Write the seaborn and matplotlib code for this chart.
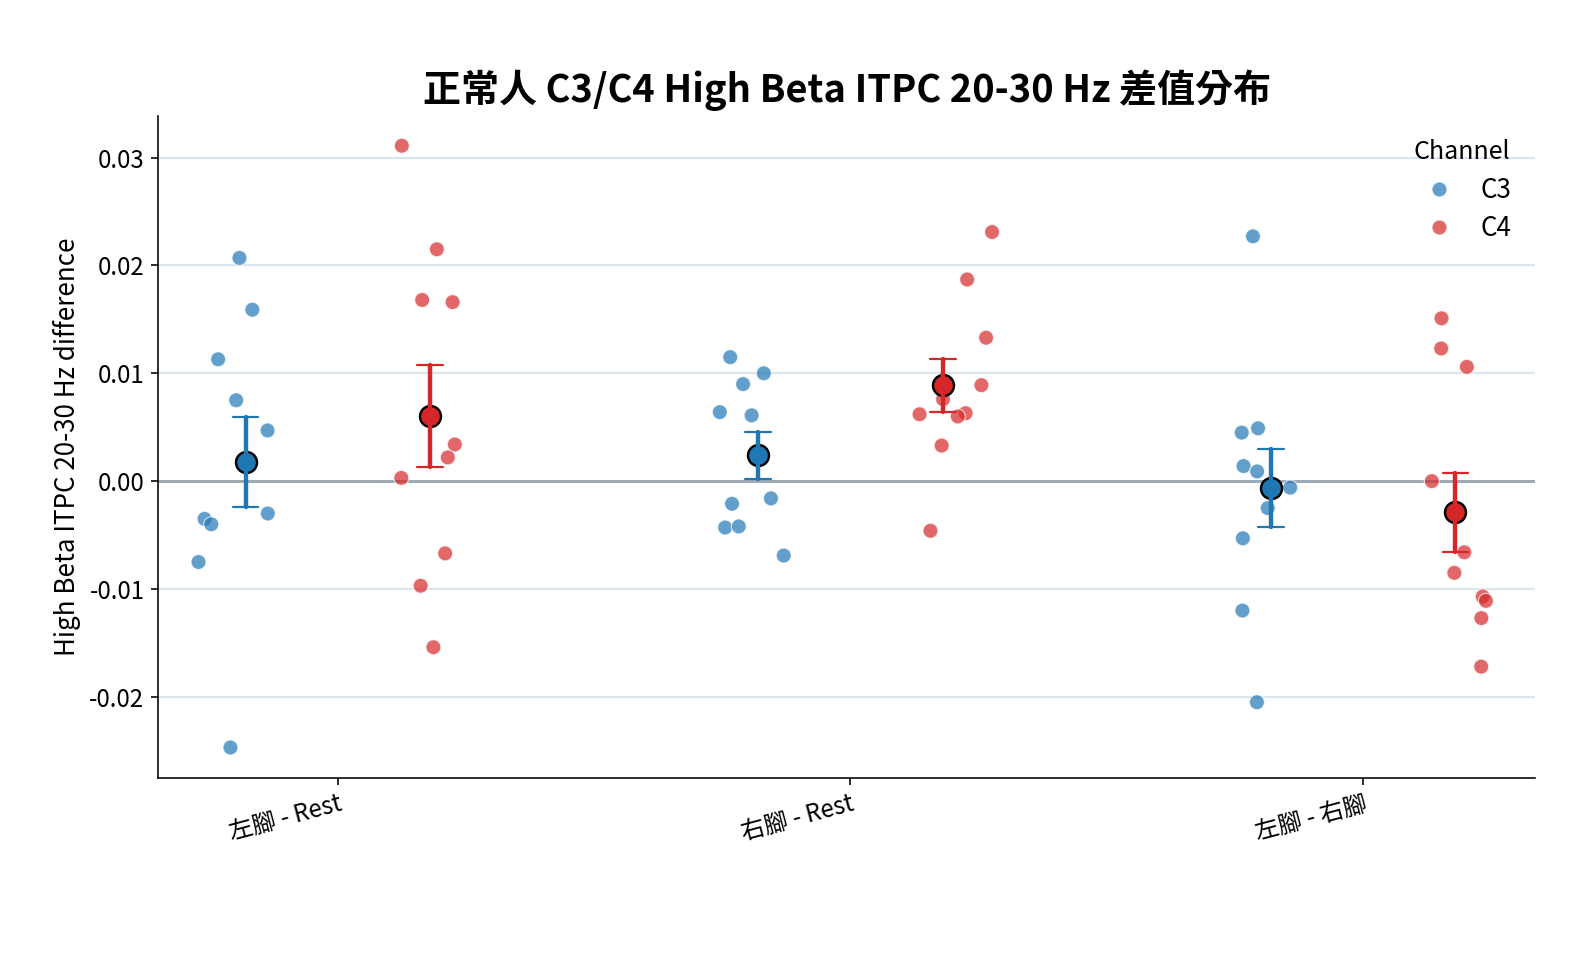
# C3/C4 high beta ITPC difference plot (strip + mean +/- SE)

import numpy as np
import pandas as pd
import seaborn as sns
from matplotlib import pyplot as plt

# --- DATA ---
conditions = ["左腳 - Rest", "右腳 - Rest", "左腳 - 右腳"]
channels = ["C3", "C4"]

# one value per subject
c3_left_rest = [0.0207, 0.0159, 0.0113, 0.0075, 0.0047, -0.0030, -0.0035, -0.0040, -0.0075, -0.0247]
c4_left_rest = [0.0311, 0.0215, 0.0166, 0.0168, 0.0034, 0.0022, 0.0003, -0.0067, -0.0097, -0.0154]
c3_right_rest = [0.0115, 0.0100, 0.0090, 0.0064, 0.0061, -0.0016, -0.0021, -0.0043, -0.0042, -0.0069]
c4_right_rest = [0.0231, 0.0187, 0.0133, 0.0089, 0.0076, 0.0062, 0.0063, 0.0060, 0.0033, -0.0046]
c3_left_right = [0.0227, 0.0049, 0.0045, 0.0014, 0.0009, -0.0006, -0.0025, -0.0053, -0.0120, -0.0205]
c4_left_right = [0.0151, 0.0123, 0.0106, 0.0000, -0.0066, -0.0085, -0.0107, -0.0111, -0.0127, -0.0172]

palette = {"C3": "#1f77b4", "C4": "#d62728"}

# --- build long table ---
groups = [
    (conditions[0], "C3", c3_left_rest),
    (conditions[0], "C4", c4_left_rest),
    (conditions[1], "C3", c3_right_rest),
    (conditions[1], "C4", c4_right_rest),
    (conditions[2], "C3", c3_left_right),
    (conditions[2], "C4", c4_left_right),
]
rows = []
for cond, ch, vals in groups:
    for v in vals:
        rows.append({"condition": cond, "Channel": ch, "diff": v})
df = pd.DataFrame(rows)

# --- PLOT ---
sns.set_style("ticks")
plt.rcParams['font.family'] = ['Noto Sans CJK TC', 'DejaVu Sans']
plt.rcParams['axes.unicode_minus'] = False
for key in ["text.color", "axes.labelcolor", "xtick.color", "ytick.color", "axes.edgecolor"]:
    plt.rcParams[key] = "black"

np.random.seed(3)
fig, ax = plt.subplots(figsize=(11, 6.75), dpi=144)

ax.yaxis.grid(True, color="#dce5ee", linewidth=1.1, zorder=0)
ax.set_axisbelow(True)
ax.axhline(0, color="#9eaab6", linewidth=1.5, zorder=1)

sns.stripplot(data=df, x="condition", y="diff", hue="Channel", order=conditions,
              hue_order=channels, palette=palette, dodge=True, jitter=0.16,
              size=7.5, alpha=0.7, edgecolor="white", linewidth=0.6, ax=ax, zorder=2)

# thin caps first, then thick bars + mean markers on top
sns.pointplot(data=df, x="condition", y="diff", hue="Channel", order=conditions,
              hue_order=channels, palette=palette, dodge=0.36, errorbar="se",
              capsize=0.05, linestyle="none", markers="", err_kws={"linewidth": 1.1},
              legend=False, ax=ax)
sns.pointplot(data=df, x="condition", y="diff", hue="Channel", order=conditions,
              hue_order=channels, palette=palette, dodge=0.36, errorbar="se",
              capsize=0, linestyle="none", markers="o", markersize=10.5,
              markeredgecolor="black", markeredgewidth=1.2,
              err_kws={"linewidth": 2.2}, legend=False, ax=ax)

ax.set_xlim(-0.35, 2.335)
ax.set_yticks([-0.02, -0.01, 0.0, 0.01, 0.02, 0.03])
ax.set_yticklabels(["%.2f" % t for t in [-0.02, -0.01, 0.0, 0.01, 0.02, 0.03]])
ax.tick_params(axis="both", labelsize=12)
ax.tick_params(axis="x", pad=3)
plt.setp(ax.get_xticklabels(), rotation=15, ha="right", rotation_mode="anchor")

ax.set_xlabel("")
ax.set_ylabel("High Beta ITPC 20-30 Hz difference", fontsize=13)
ax.set_title("正常人 C3/C4 High Beta ITPC 20-30 Hz 差值分布", fontsize=19,
             fontweight="bold", pad=7)

sns.despine(ax=ax)
leg = ax.legend(title="Channel", loc="upper right", frameon=False, fontsize=13,
                title_fontsize=12.5, labelspacing=0.45, handletextpad=0.6,
                bbox_to_anchor=(1.0, 1.0))

plt.subplots_adjust(left=0.1, right=0.969, top=0.881, bottom=0.2)
plt.savefig("out.png", dpi=144)
